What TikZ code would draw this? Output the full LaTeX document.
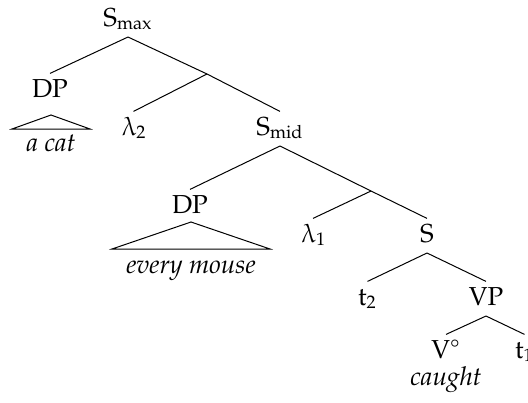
\documentclass[tikz,border=0pt]{standalone}
\usepackage[T1]{fontenc}
\usepackage{amsmath}
\usepackage{pxfonts}
\usepackage{tikz}
\tikzset{
  lbl/.style={font=\fontsize{13}{15}\selectfont, inner sep=2.5pt, outer sep=0pt,
    text height=9.3pt, text depth=3pt, anchor=base},
  word/.style={font=\fontsize{13}{15}\selectfont\itshape, inner sep=0pt, anchor=base},
}

\begin{document}
\begin{tikzpicture}[x=0.5pt, y=-0.5pt, line width=0.5pt]
  \useasboundingbox (0,0) rectangle (528,402);
  \clip (0,0) rectangle (528,402);

  % category labels
  \node[lbl] (smax) at (128,26) {S$_{\mathrm{max}}$};
  \node[lbl] (dpa) at (50,97) {DP};
  \node[lbl] (lamb2) at (133.5,135) {$\lambdaup_2$};
  \node[lbl] (smid) at (280,135) {S$_{\mathrm{mid}}$};
  \node[lbl] (dpb) at (190,213) {DP};
  \node[lbl] (lamb1) at (313,242) {$\lambdaup_1$};
  \node[lbl] (s) at (427,242) {S};
  \node[lbl] (ttwo) at (367.5,305) {t$_2$};
  \node[lbl] (vp) at (486,305) {VP};
  \node[lbl] (v) at (446,358) {V$^\circ$};
  \node[lbl] (tone) at (524.5,358) {t$_1$};

  % unlabelled branching points
  \coordinate (ja) at (207,74);
  \coordinate (jb) at (371,191);

  % branches
  \draw (smax.south) -- (dpa.north);
  \draw (smax.south) -- (ja) -- (smid.north);
  \draw (ja) -- (lamb2.north);
  \draw (smid.south) -- (dpb.north);
  \draw (smid.south) -- (jb) -- (s.north);
  \draw (jb) -- (lamb1.north);
  \draw (s.south) -- (ttwo.north);
  \draw (s.south) -- (vp.north);
  \draw (vp.south) -- (v.north);
  \draw (vp.south) -- (tone.north);

  % roofs and words
  \draw (51,115) -- (12,129) -- (90,129) -- cycle;
  \node[word] (acat) at (51,151) {a cat};
  \draw (191,222) -- (112,249) -- (270,249) -- cycle;
  \node[word] (mouse) at (191,273) {every mouse};
  \node[word] (caught) at (446,385) {caught};
\end{tikzpicture}
\end{document}
